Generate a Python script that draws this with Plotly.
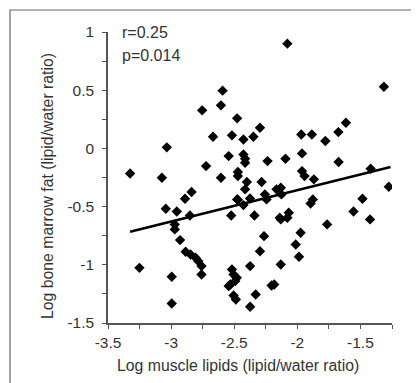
import plotly.graph_objects as go

# Data
muscle_lipids = [
    -3.325, -3.251, -3.073, -3.034, -3.042, -2.995, -2.995, -2.955, -2.971, -2.971,
    -2.929, -2.890, -2.838, -2.851, -2.885, -2.846, -2.806, -2.785, -2.759, -2.759,
    -2.754, -2.723, -2.668, -2.605, -2.592, -2.605, -2.544, -2.524, -2.518, -2.518,
    -2.505, -2.479, -2.492, -2.531, -2.544, -2.505, -2.487, -2.477, -2.477, -2.471,
    -2.471, -2.427, -2.427, -2.414, -2.414, -2.414, -2.400, -2.427, -2.375, -2.471,
    -2.374, -2.374, -2.348, -2.340, -2.330, -2.296, -2.283, -2.264, -2.296, -2.257,
    -2.244, -2.236, -2.204, -2.183, -2.165, -2.131, -2.126, -2.131, -2.131, -2.094,
    -2.079, -2.139, -2.079, -2.068, -2.013, -1.987, -1.974, -1.969, -1.963, -1.963,
    -1.943, -1.895, -1.877, -1.885, -1.869, -1.778, -1.764, -1.675, -1.673, -1.615,
    -1.555, -1.484, -1.424, -1.419, -1.314, -1.275,
]
marrow_fat = [
    -0.215, -1.026, -0.252, 0.009, -0.519, -1.103, -1.332, -0.542, -0.653, -0.696,
    -0.788, -0.433, -0.375, -0.576, -0.888, -0.911, -0.940, -0.968, -1.011, -1.083,
    0.327, -0.152, 0.100, 0.370, 0.496, -0.252, -0.066, -0.576, 0.112, -1.040,
    -1.083, -1.112, -1.140, -1.169, -1.183, -1.264, -1.298, -0.438, 0.258, -0.203,
    -0.238, 0.077, -0.052, -0.089, -0.123, -0.352, -0.289, -0.487, -0.430, -0.441,
    -1.361, -1.011, 0.100, -0.576, -1.255, 0.178, -0.289, -0.754, -0.883, -0.395,
    -0.438, -0.109, -1.178, -1.169, -0.352, -0.338, -0.395, -0.610, -0.997, -0.089,
    0.900, -0.596, -0.596, -0.553, -0.825, -0.931, -0.725, 0.120, -0.043, -0.195,
    -0.238, -0.473, -0.438, 0.120, -0.266, 0.063, -0.653, 0.140, -0.117, 0.221,
    -0.542, -0.433, -0.610, -0.175, 0.530, -0.330,
]
fit_x = [-3.325, -1.262]
fit_y = [-0.716, -0.160]

x_ticks = [-3.5, -3, -2.5, -2, -1.5]
x_tick_labels = ["-3.5", "-3", "-2.5", "-2", "-1.5"]
y_ticks = [-1.5, -1, -0.5, 0, 0.5, 1]
y_tick_labels = ["-1.5", "-1", "-0.5", "0", "0.5", "1"]
x_title = "Log muscle lipids (lipid/water ratio)"
y_title = "Log bone marrow fat (lipid/water ratio)"
stat_r = "r=0.25"
stat_p = "p=0.014"

FONT = "Liberation Sans, Arial, Helvetica, sans-serif"
TXT = "#333333"
AX = "#555555"

# page body has an 8px margin; plot area target on page: x 108..392, y 32..323
PL, PR, PT, PB = 108, 392, 32, 323
PW, PH = PR - PL, PB - PT


def px(x):
    return (x - PL) / PW


def py(y):
    return (PB - y) / PH


fig = go.Figure()
fig.add_trace(go.Scatter(
    x=muscle_lipids, y=marrow_fat, mode="markers",
    marker=dict(symbol="diamond", size=8, color="black", line=dict(width=0)),
    showlegend=False, hoverinfo="skip",
))
fig.add_trace(go.Scatter(
    x=fit_x, y=fit_y, mode="lines",
    line=dict(color="black", width=2.5),
    showlegend=False, hoverinfo="skip",
))

axis_common = dict(
    showgrid=False, zeroline=False, showline=True, linecolor=AX, linewidth=1.6,
    ticks="outside", ticklen=4, tickwidth=1.2, tickcolor=AX,
    tickfont=dict(family=FONT, size=15.5, color=TXT),
    tickmode="array",
)

W, H = 411, 375
fig.update_layout(
    width=W, height=H,
    margin=dict(l=PL - 8, r=W - (PR - 8), t=PT - 8, b=H - (PB - 8)),
    paper_bgcolor="white", plot_bgcolor="white",
    font=dict(family=FONT, color=TXT),
    xaxis=dict(
        range=[-3.5, -1.25], tickvals=x_ticks, ticktext=x_tick_labels,
        minor=dict(dtick=0.25, tick0=-3.5, ticks="outside", ticklen=4, tickwidth=1.2, tickcolor=AX),
        ticklabelstandoff=1,
        **axis_common,
    ),
    yaxis=dict(
        range=[-1.5, 1], tickvals=y_ticks, ticktext=y_tick_labels,
        minor=dict(dtick=0.25, tick0=-1.5, ticks="outside", ticklen=4, tickwidth=1.2, tickcolor=AX),
        ticklabelstandoff=5,
        **axis_common,
    ),
    shapes=[dict(
        type="rect", xref="paper", yref="paper",
        x0=px(10), x1=px(440), y0=py(400), y1=py(10),
        line=dict(color="#666666", width=1.2), fillcolor="rgba(0,0,0,0)", layer="below",
    )],
    annotations=[
        dict(text=stat_r, xref="paper", yref="paper", x=px(120), y=py(33),
             xanchor="left", yanchor="middle", showarrow=False,
             font=dict(family=FONT, size=16, color=TXT)),
        dict(text=stat_p, xref="paper", yref="paper", x=px(120), y=py(55),
             xanchor="left", yanchor="middle", showarrow=False,
             font=dict(family=FONT, size=16, color=TXT)),
        dict(text=x_title, xref="paper", yref="paper", x=px(237.5), y=py(365),
             xanchor="center", yanchor="middle", showarrow=False,
             font=dict(family=FONT, size=15.8, color=TXT)),
        dict(text=y_title, xref="paper", yref="paper", x=px(47), y=py(186),
             xanchor="center", yanchor="middle", showarrow=False, textangle=-90,
             font=dict(family=FONT, size=15.8, color=TXT)),
    ],
)

fig.write_html("out.html")
